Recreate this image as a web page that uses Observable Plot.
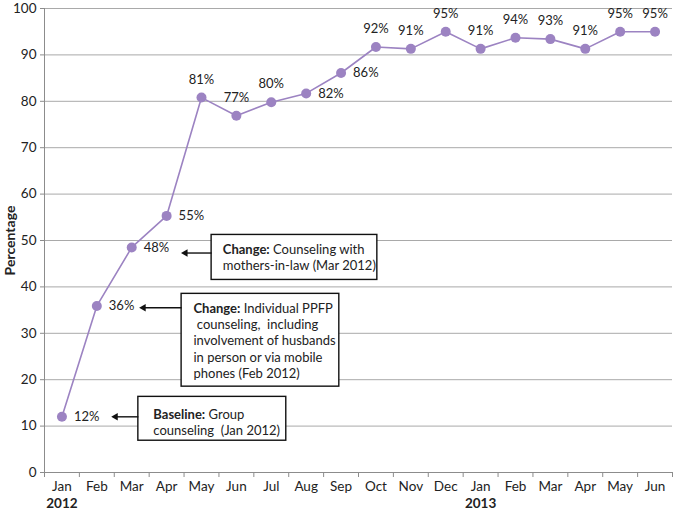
<!DOCTYPE html>
<html><head><meta charset="utf-8">
<script src="https://cdn.jsdelivr.net/npm/d3@7"></script>
<script src="https://cdn.jsdelivr.net/npm/@observablehq/plot@0.6"></script>
<style>
body{margin:0;background:#fff;}
svg{display:block;}
</style>
</head><body><div id="chart"></div>
<script>
// ---- data ----
const months = ["Jan","Feb","Mar","Apr","May","Jun","Jul","Aug","Sep","Oct","Nov","Dec","Jan","Feb","Mar","Apr","May","Jun"];
const values = [12.0, 35.9, 48.5, 55.3, 80.8, 76.9, 79.8, 81.7, 86.1, 91.7, 91.3, 95.0, 91.3, 93.7, 93.4, 91.3, 95.0, 95.0];
const valueLabels = ["12%","36%","48%","55%","81%","77%","80%","82%","86%","92%","91%","95%","91%","94%","93%","91%","95%","95%"];
const yearLabels = ["2012","2013"];
const yearIndex = [0, 12];
const yTicks = [0,10,20,30,40,50,60,70,80,90,100];
const noteTexts = [
  "Change: Counseling with\nmothers-in-law (Mar 2012)",
  "Change: Individual PPFP\n counseling,  including\ninvolvement of husbands\nin person or via mobile\nphones (Feb 2012)",
  "Baseline: Group\ncounseling  (Jan 2012)"
];
// annotation anchors (data units: month index, percentage)
const noteArrowY = [47.3, 35.5, 12.0];
const noteArrowTip = [3.48, 2.28, 1.48];
// ---- layout of annotation boxes (data units) ----
const noteLayout = [
  {x1: 4.29, x2: 9.04, top: 51.2, bottom: 41.5, tx: 4.61, ty: 49.6},
  {x1: 3.43, x2: 7.95, top: 38.5, bottom: 18.5, tx: 3.77, ty: 36.9},
  {x1: 2.19, x2: 6.43, top: 16.3, bottom: 6.85, tx: 2.62, ty: 14.1}
];

const color = "#9c83c2";
const data = values.map((v, i) => ({i, v, label: valueLabels[i], month: months[i]}));
const rightSide = new Set([0,1,2,3,7,8]);
const notes = noteTexts.map((t, k) => ({text: t, arrowY: noteArrowY[k], tip: noteArrowTip[k], ...noteLayout[k]}));
const years = yearLabels.map((l, k) => ({label: l, i: yearIndex[k]}));
const boundaries = d3.range(-0.5, 18, 1);

const font = "Lato, 'Open Sans', sans-serif";

const plot = Plot.plot({
  width: 674,
  height: 512,
  marginLeft: 44,
  marginRight: 2,
  marginTop: 8,
  marginBottom: 40,
  style: {fontFamily: font, fontSize: "13px", color: "#222", background: "#fff"},
  x: {type: "linear", domain: [-0.5, 17.5]},
  y: {domain: [0, 100]},
  marks: [
    Plot.ruleY(yTicks.filter(d => d > 0), {stroke: "#a9a9a9", strokeWidth: 1}),
    Plot.ruleY([0], {stroke: "#8c8c8c", strokeWidth: 1}),
    Plot.ruleX([-0.5], {stroke: "#8c8c8c", strokeWidth: 1}),
    Plot.axisY({ticks: yTicks, tickSize: 4, tickPadding: 4, stroke: "#8c8c8c", fontSize: 13.5,
      label: "Percentage", labelAnchor: "center", labelArrow: "none", labelOffset: 39}),
    Plot.axisX({ticks: boundaries, tickSize: 5, tickFormat: () => "", stroke: "#8c8c8c", label: null}),
    Plot.axisX({ticks: d3.range(18), tickSize: 0, tickPadding: 9, tickFormat: i => months[i], fontSize: 13.5, label: null}),
    Plot.text(years, {x: "i", y: () => 0, text: "label", dy: 31, fontWeight: "bold", fontSize: 13.5, fill: "#222"}),
    // annotations
    Plot.rect(notes, {x1: "x1", x2: "x2", y1: "bottom", y2: "top", fill: "white", stroke: "#111", strokeWidth: 1.4}),
    Plot.link(notes, {x1: "x1", x2: "tip", y1: "arrowY", y2: "arrowY", stroke: "#111", strokeWidth: 1.4}),
    Plot.dot(notes, {x: "tip", y: "arrowY", symbol: "triangle2", r: 3.6, rotate: -90, fill: "#111", dx: 2}),
    Plot.text(notes, {x: "tx", y: "ty", text: "text", textAnchor: "start", lineAnchor: "top", lineHeight: 1.25, fontSize: 13, fill: "#222", className: "note"}),
    // series
    Plot.line(data, {x: "i", y: "v", stroke: color, strokeWidth: 1.6}),
    Plot.dot(data, {x: "i", y: "v", r: 5, fill: color, stroke: "none"}),
    Plot.text(data.filter(d => rightSide.has(d.i)), {x: "i", y: "v", text: "label", textAnchor: "start", dx: 12, fontSize: 13, fill: "#222"}),
    Plot.text(data.filter(d => !rightSide.has(d.i)), {x: "i", y: "v", text: "label", dy: -18, fontSize: 13, fill: "#222"})
  ]
});

// bold "Change:" / "Baseline:" keywords
d3.select(plot).selectAll("g.note text").each(function() {
  const first = this.querySelector("tspan") || this;
  const s = first.textContent;
  const m = s.match(/^(Change:|Baseline:)(.*)$/);
  if (m) {
    first.textContent = "";
    d3.select(first).append("tspan").attr("font-weight", "bold").text(m[1]);
    d3.select(first).append("tspan").text(m[2]);
  }
});
d3.select(plot).selectAll("g.note tspan").attr("xml:space", "preserve").style("white-space", "pre");
d3.select(plot).selectAll('g[aria-label="y-axis label"] text').attr("font-weight", "bold").attr("font-size", 14);

document.getElementById("chart").append(plot);
</script>
</body></html>
